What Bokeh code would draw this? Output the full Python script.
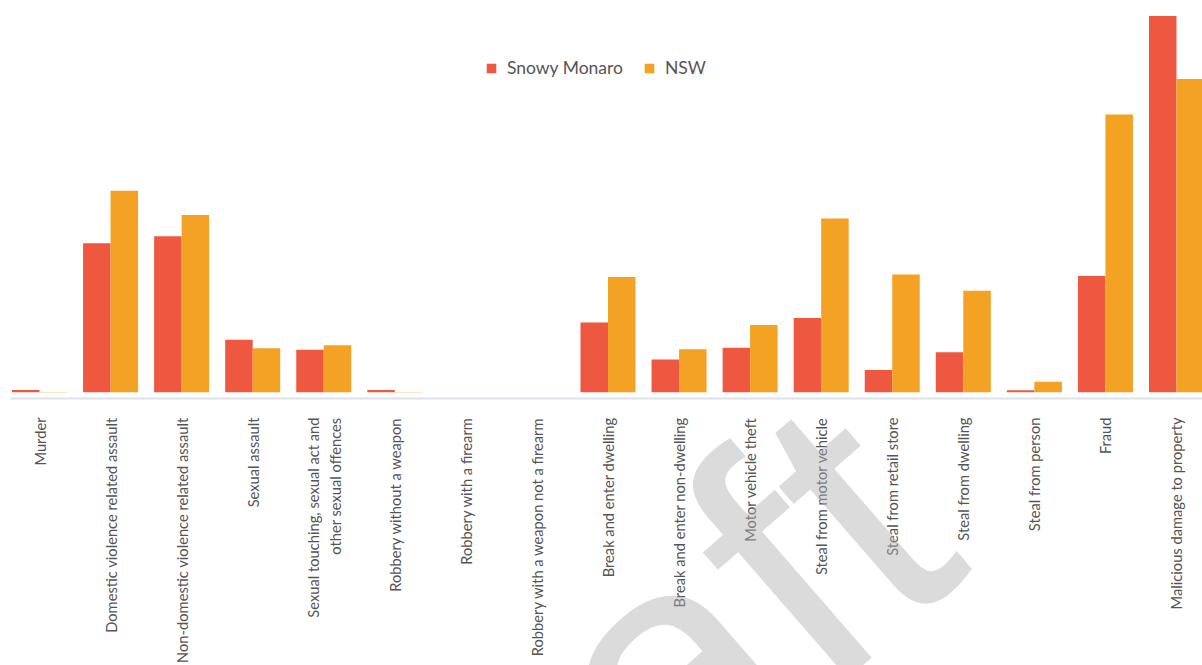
import math
from bokeh.plotting import figure
from bokeh.layouts import column
from bokeh.models import ColumnDataSource, Range1d, FixedTicker, Legend, LegendItem, Label
from bokeh.transform import dodge
from bokeh.embed import file_html
from bokeh.resources import INLINE

categories = [
    "Murder",
    "Domestic violence related assault",
    "Non-domestic violence related assault",
    "Sexual assault",
    "Sexual touching, sexual act and\nother sexual offences",
    "Robbery without a weapon",
    "Robbery with a firearm",
    "Robbery with a weapon not a firearm",
    "Break and enter dwelling",
    "Break and enter non-dwelling",
    "Motor vehicle theft",
    "Steal from motor vehicle",
    "Steal from retail store",
    "Steal from dwelling",
    "Steal from person",
    "Fraud",
    "Malicious damage to property",
]
snowy_monaro = [4.5, 301, 315, 106, 86, 4.5, 0, 0, 141, 66, 90, 150, 45, 81, 4, 235, 760]
nsw = [0.6, 407, 358, 89, 95, 0.5, 0, 0, 233, 87, 136, 351, 238, 205, 21, 561, 633]

RED = "#EE5841"
ORANGE = "#F3A223"

idx = list(range(len(categories)))
src = ColumnDataSource(data=dict(x=idx, sm=snowy_monaro, nsw=nsw))

p = figure(width=1202, height=665, output_backend="svg", toolbar_location=None,
           x_range=Range1d(-0.4081, 16.366), y_range=Range1d(-12.6, 775.4),
           y_axis_location=None, min_border_left=10, min_border_right=0,
           min_border_top=8, min_border_bottom=263)
p.outline_line_color = None
p.xgrid.visible = False
p.ygrid.visible = False
p.background_fill_color = "white"
p.border_fill_color = "white"

bw = 0.387
r1 = p.vbar(x=dodge("x", -bw / 2), top="sm", width=bw, source=src,
            fill_color=RED, line_color=None)
r2 = p.vbar(x=dodge("x", bw / 2), top="nsw", width=bw, source=src,
            fill_color=ORANGE, line_color=None)

ax = p.xaxis[0]
ax.ticker = FixedTicker(ticks=idx)
ax.major_label_overrides = {i: c for i, c in zip(idx, categories)}
ax.major_label_orientation = math.pi / 2
ax.major_tick_line_color = None
ax.minor_tick_line_color = None
ax.major_tick_out = 0
ax.major_label_standoff = 19
ax.axis_line_color = "#DCE2E9"
ax.axis_line_width = 2
ax.major_label_text_font = "Lato"
ax.major_label_text_font_size = "14.7px"
ax.major_label_text_color = "#555555"

legend = Legend(items=[LegendItem(label="Snowy Monaro", renderers=[r1]),
                       LegendItem(label="NSW", renderers=[r2])],
                orientation="horizontal", location=(475, 320),
                border_line_color=None, background_fill_alpha=0,
                glyph_width=12, glyph_height=12, label_standoff=10, spacing=20,
                padding=0, margin=0,
                label_text_font="Lato", label_text_font_size="17.5px",
                label_text_color="#555555")
p.add_layout(legend, "center")

# transparent overlay page-sized figure carrying the "Draft" watermark
wm_fig = figure(width=1202, height=665, output_backend="svg", toolbar_location=None,
                x_range=Range1d(0, 1202), y_range=Range1d(0, 665),
                x_axis_location=None, y_axis_location=None,
                min_border=0, min_border_left=0, min_border_right=0,
                min_border_top=0, min_border_bottom=0,
                styles={"position": "absolute", "top": "0px", "left": "0px"})
wm_fig.outline_line_color = None
wm_fig.xgrid.visible = False
wm_fig.ygrid.visible = False
wm_fig.background_fill_alpha = 0
wm_fig.border_fill_alpha = 0
wm = Label(x=296, y=-320, text="Draft", angle=math.radians(41),
           text_font="Liberation Sans", text_font_size="360px",
           text_color="#B0B0B0", text_alpha=0.45,
           text_align="left", text_baseline="alphabetic")
wm_fig.add_layout(wm)

layout = column(p, wm_fig, styles={"position": "relative"})
open("out.html", "w").write(file_html(layout, INLINE))
